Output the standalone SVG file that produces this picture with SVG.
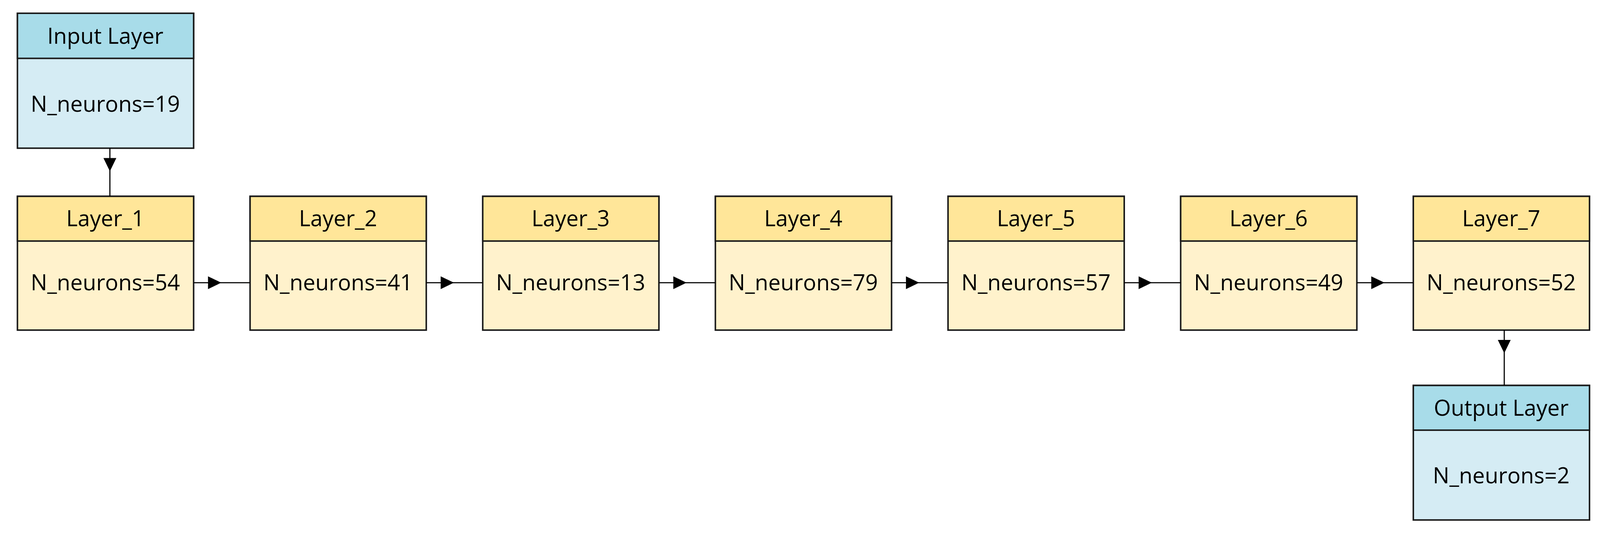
<svg xmlns="http://www.w3.org/2000/svg" width="4219" height="1400" viewBox="0 0 4219 1400">
<style>
.hy{fill:#ffe699;stroke:#1a1a1a;stroke-width:4}
.by{fill:#fff2cc;stroke:#1a1a1a;stroke-width:4}
.hb{fill:#a8dce9;stroke:#1a1a1a;stroke-width:4}
.bb{fill:#d5ecf4;stroke:#1a1a1a;stroke-width:4}
text{font-family:"Open Sans","Liberation Sans",sans-serif;font-size:58px;fill:#000;text-anchor:middle}
.c{stroke:#000;stroke-width:3;fill:none}
.a{fill:#000}
</style>
<rect width="4219" height="1400" fill="#fff"/>
<g transform="scale(0.97)">
<g id="input">
<rect class="bb" x="46" y="35" width="465" height="356"/>
<rect class="hb" x="46" y="35" width="465" height="119"/>
<text x="278" y="115">Input Layer</text>
<text x="278" y="295">N_neurons=19</text>
</g>
<g id="layer1"><rect class="by" x="46" y="518" width="465" height="353"/><rect class="hy" x="46" y="518" width="465" height="118"/><text x="278" y="597">Layer_1</text><text x="278" y="766">N_neurons=54</text></g>
<g id="layer2"><rect class="by" x="660" y="518" width="465" height="353"/><rect class="hy" x="660" y="518" width="465" height="118"/><text x="892" y="597">Layer_2</text><text x="892" y="766">N_neurons=41</text></g>
<g id="layer3"><rect class="by" x="1274" y="518" width="465" height="353"/><rect class="hy" x="1274" y="518" width="465" height="118"/><text x="1506" y="597">Layer_3</text><text x="1506" y="766">N_neurons=13</text></g>
<g id="layer4"><rect class="by" x="1888" y="518" width="465" height="353"/><rect class="hy" x="1888" y="518" width="465" height="118"/><text x="2120" y="597">Layer_4</text><text x="2120" y="766">N_neurons=79</text></g>
<g id="layer5"><rect class="by" x="2502" y="518" width="465" height="353"/><rect class="hy" x="2502" y="518" width="465" height="118"/><text x="2734" y="597">Layer_5</text><text x="2734" y="766">N_neurons=57</text></g>
<g id="layer6"><rect class="by" x="3116" y="518" width="465" height="353"/><rect class="hy" x="3116" y="518" width="465" height="118"/><text x="3348" y="597">Layer_6</text><text x="3348" y="766">N_neurons=49</text></g>
<g id="layer7"><rect class="by" x="3730" y="518" width="465" height="353"/><rect class="hy" x="3730" y="518" width="465" height="118"/><text x="3962" y="597">Layer_7</text><text x="3962" y="766">N_neurons=52</text></g>
<g id="output">
<rect class="bb" x="3730" y="1017" width="465" height="355"/>
<rect class="hb" x="3730" y="1017" width="465" height="118"/>
<text x="3962" y="1097">Output  Layer</text>
<text x="3962" y="1275">N_neurons=2</text>
</g>
<g id="connectors">
<line class="c" x1="290" y1="391" x2="290" y2="518"/>
<polygon class="a" points="273,417 307,417 290,452"/>
<line class="c" x1="3970" y1="871" x2="3970" y2="1017"/>
<polygon class="a" points="3953,897 3987,897 3970,932"/>
<line class="c" x1="511" y1="746" x2="660" y2="746"/><polygon class="a" points="549,729 584,746 549,763"/>
<line class="c" x1="1125" y1="746" x2="1274" y2="746"/><polygon class="a" points="1163,729 1198,746 1163,763"/>
<line class="c" x1="1739" y1="746" x2="1888" y2="746"/><polygon class="a" points="1777,729 1812,746 1777,763"/>
<line class="c" x1="2353" y1="746" x2="2502" y2="746"/><polygon class="a" points="2391,729 2426,746 2391,763"/>
<line class="c" x1="2967" y1="746" x2="3116" y2="746"/><polygon class="a" points="3005,729 3040,746 3005,763"/>
<line class="c" x1="3581" y1="746" x2="3730" y2="746"/><polygon class="a" points="3619,729 3654,746 3619,763"/>
</g>
</g>
</svg>
